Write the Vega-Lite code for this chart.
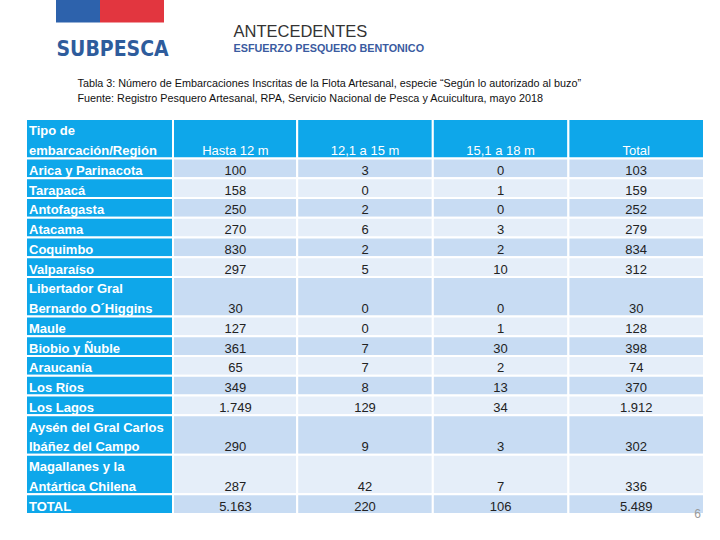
{
  "$schema": "https://vega.github.io/schema/vega-lite/v6.json",
  "width": 678,
  "height": 395,
  "autosize": {"type": "none"},
  "padding": {"left": 26, "top": 119, "right": 16, "bottom": 26},
  "background": "white",
  "config": {
    "view": {"stroke": null},
    "font": "Liberation Sans",
    "locale": {"number": {"decimal": ",", "thousands": ".", "grouping": [3], "currency": ["$", ""]}},
    "axis": {"grid": false, "labels": false, "ticks": false, "domain": false, "titleAngle": 0, "titleAlign": "left", "titleBaseline": "alphabetic"}
  },
  "datasets": {
    "tabla": [
      {"linea1": "Tipo de", "linea2": "embarcación/Región"},
      {"linea1": "Arica y Parinacota", "linea2": "Arica y Parinacota", "Hasta 12 m": 100, "12,1 a 15 m": 3, "15,1 a 18 m": 0, "Total": 103},
      {"linea1": "Tarapacá", "linea2": "Tarapacá", "Hasta 12 m": 158, "12,1 a 15 m": 0, "15,1 a 18 m": 1, "Total": 159},
      {"linea1": "Antofagasta", "linea2": "Antofagasta", "Hasta 12 m": 250, "12,1 a 15 m": 2, "15,1 a 18 m": 0, "Total": 252},
      {"linea1": "Atacama", "linea2": "Atacama", "Hasta 12 m": 270, "12,1 a 15 m": 6, "15,1 a 18 m": 3, "Total": 279},
      {"linea1": "Coquimbo", "linea2": "Coquimbo", "Hasta 12 m": 830, "12,1 a 15 m": 2, "15,1 a 18 m": 2, "Total": 834},
      {"linea1": "Valparaíso", "linea2": "Valparaíso", "Hasta 12 m": 297, "12,1 a 15 m": 5, "15,1 a 18 m": 10, "Total": 312},
      {"linea1": "Libertador Gral", "linea2": "Bernardo O´Higgins", "Hasta 12 m": 30, "12,1 a 15 m": 0, "15,1 a 18 m": 0, "Total": 30},
      {"linea1": "Maule", "linea2": "Maule", "Hasta 12 m": 127, "12,1 a 15 m": 0, "15,1 a 18 m": 1, "Total": 128},
      {"linea1": "Biobio y Ñuble", "linea2": "Biobio y Ñuble", "Hasta 12 m": 361, "12,1 a 15 m": 7, "15,1 a 18 m": 30, "Total": 398},
      {"linea1": "Araucanía", "linea2": "Araucanía", "Hasta 12 m": 65, "12,1 a 15 m": 7, "15,1 a 18 m": 2, "Total": 74},
      {"linea1": "Los Ríos", "linea2": "Los Ríos", "Hasta 12 m": 349, "12,1 a 15 m": 8, "15,1 a 18 m": 13, "Total": 370},
      {"linea1": "Los Lagos", "linea2": "Los Lagos", "Hasta 12 m": 1749, "12,1 a 15 m": 129, "15,1 a 18 m": 34, "Total": 1912},
      {"linea1": "Aysén del Gral Carlos", "linea2": "Ibáñez del Campo", "Hasta 12 m": 290, "12,1 a 15 m": 9, "15,1 a 18 m": 3, "Total": 302},
      {"linea1": "Magallanes y la", "linea2": "Antártica Chilena", "Hasta 12 m": 287, "12,1 a 15 m": 42, "15,1 a 18 m": 7, "Total": 336},
      {"linea1": "TOTAL", "linea2": "TOTAL", "Hasta 12 m": 5163, "12,1 a 15 m": 220, "15,1 a 18 m": 106, "Total": 5489}
    ],
    "logo": [{"marca": "SUBPESCA"}]
  },
  "layer": [
    {
      "layer": [
        {
          "data": {"name": "tabla"},
          "transform": [
            {"window": [{"op": "row_number", "as": "n"}]},
            {"fold": ["Hasta 12 m", "12,1 a 15 m", "15,1 a 18 m", "Total"], "as": ["col", "valor"]}
          ],
          "mark": {"type": "rect", "stroke": "white", "strokeWidth": 2},
          "encoding": {
            "x": {
              "field": "col", "type": "nominal",
              "scale": {"domain": ["Región", "Hasta 12 m", "12,1 a 15 m", "15,1 a 18 m", "Total"], "paddingInner": 0, "paddingOuter": 0},
              "axis": {
                "orient": "top",
                "title": ["Tabla 3: Número de Embarcaciones Inscritas de la Flota Artesanal, especie “Según lo autorizado al buzo”", "Fuente: Registro Pesquero Artesanal, RPA, Servicio Nacional de Pesca y Acuicultura, mayo 2018"],
                "titleX": 51, "titleY": -33, "titleAngle": 0, "titleAlign": "left", "titleBaseline": "alphabetic",
                "titleFont": "Liberation Sans", "titleFontSize": 10.8, "titleFontWeight": "normal", "titleColor": "#111111", "titleLineHeight": 15
              }
            },
            "y": {
              "field": "linea1", "type": "nominal", "bandPosition": 0,
              "scale": {"domain": ["Tipo de", "embarcación/Región", "Arica y Parinacota", "Tarapacá", "Antofagasta", "Atacama", "Coquimbo", "Valparaíso", "Libertador Gral", "Bernardo O´Higgins", "Maule", "Biobio y Ñuble", "Araucanía", "Los Ríos", "Los Lagos", "Aysén del Gral Carlos", "Ibáñez del Campo", "Magallanes y la", "Antártica Chilena", "TOTAL"], "paddingInner": 0, "paddingOuter": 0},
              "axis": {
                "orient": "left", "title": "ANTECEDENTES",
                "titleX": 207, "titleY": -83, "titleAngle": 0, "titleAlign": "left", "titleBaseline": "alphabetic",
                "titleFont": "Liberation Sans", "titleFontSize": 16.5, "titleFontWeight": "normal", "titleColor": "#333333"
              }
            },
            "y2": {"field": "linea2", "bandPosition": 1},
            "fill": {
              "condition": [
                {"test": "datum.n == 1", "value": "#0EA7EA"},
                {"test": "datum.n % 2 == 0", "value": "#C8DCF3"}
              ],
              "value": "#E5EEF9"
            }
          }
        },
        {
          "data": {"name": "tabla"},
          "mark": {"type": "rect", "fill": "#0EA7EA", "stroke": "white", "strokeWidth": 2, "width": {"band": 1.084}, "xOffset": 5.7},
          "encoding": {
            "x": {
              "datum": "Región", "type": "nominal",
              "axis": {
                "orient": "bottom", "title": "ESFUERZO PESQUERO BENTONICO",
                "titleX": 207, "titleY": -463, "titleAngle": 0, "titleAlign": "left", "titleBaseline": "alphabetic",
                "titleFont": "Liberation Sans", "titleFontSize": 10.8, "titleFontWeight": "bold", "titleColor": "#3A5BA0"
              }
            },
            "y": {"field": "linea1", "type": "nominal", "bandPosition": 0, "axis": null},
            "y2": {"field": "linea2", "bandPosition": 1}
          }
        },
        {
          "data": {"name": "tabla"},
          "transform": [
            {"fold": ["linea1", "linea2"], "as": ["parte", "linea"]},
            {"filter": "datum.parte == 'linea1' || datum.linea1 != datum.linea2"}
          ],
          "mark": {"type": "text", "align": "left", "baseline": "alphabetic", "dx": 3, "dy": -3.3, "font": "Liberation Sans", "fontSize": 13, "fontWeight": "bold", "color": "white"},
          "encoding": {
            "x": {"datum": "Región", "type": "nominal", "bandPosition": 0, "axis": null},
            "y": {"field": "linea", "type": "nominal", "bandPosition": 1, "axis": null},
            "text": {"field": "linea"}
          }
        },
        {
          "data": {"name": "tabla"},
          "transform": [
            {"window": [{"op": "row_number", "as": "n"}]},
            {"filter": "datum.n == 1"},
            {"fold": ["Hasta 12 m", "12,1 a 15 m", "15,1 a 18 m", "Total"], "as": ["col", "valor"]}
          ],
          "mark": {"type": "text", "align": "center", "baseline": "alphabetic", "dy": -3.3, "dx": {"expr": "datum.col === 'Hasta 12 m' ? 6 : 0"}, "font": "Liberation Sans", "fontSize": 13, "color": "white"},
          "encoding": {
            "x": {"field": "col", "type": "nominal", "axis": null},
            "y": {"field": "linea2", "type": "nominal", "bandPosition": 1, "axis": null},
            "text": {"field": "col"}
          }
        },
        {
          "data": {"name": "tabla"},
          "transform": [
            {"window": [{"op": "row_number", "as": "n"}]},
            {"filter": "datum.n > 1"},
            {"fold": ["Hasta 12 m", "12,1 a 15 m", "15,1 a 18 m", "Total"], "as": ["col", "valor"]}
          ],
          "mark": {"type": "text", "align": "center", "baseline": "alphabetic", "dy": -3.3, "dx": {"expr": "datum.col === 'Hasta 12 m' ? 6 : 0"}, "font": "Liberation Sans", "fontSize": 13, "color": "#222222"},
          "encoding": {
            "x": {"field": "col", "type": "nominal", "axis": null},
            "y": {"field": "linea2", "type": "nominal", "bandPosition": 1, "axis": null},
            "text": {"field": "valor", "type": "quantitative", "format": ",d"}
          }
        }
      ],
      "resolve": {"axis": {"x": "independent", "y": "independent"}}
    },
    {
      "data": {"name": "logo"},
      "mark": {
        "type": "rect",
        "fill": {"gradient": "linear", "x1": 0, "y1": 0, "x2": 1, "y2": 0, "stops": [
          {"offset": 0, "color": "#2D62AC"}, {"offset": 0.407, "color": "#2D62AC"},
          {"offset": 0.407, "color": "#E2363F"}, {"offset": 1, "color": "#E2363F"}
        ]}
      },
      "encoding": {
        "x": {
          "field": "marca", "type": "nominal",
          "scale": {"range": [30, 138], "paddingInner": 0, "paddingOuter": 0},
          "axis": {
            "orient": "top", "title": "SUBPESCA",
            "titleX": 30, "titleY": -64, "titleAngle": 0, "titleAlign": "left", "titleBaseline": "alphabetic",
            "titleFont": "DejaVu Sans Condensed, Liberation Sans Narrow, sans-serif", "titleFontSize": 21, "titleFontWeight": "bold", "titleColor": "#2E5C9C"
          }
        },
        "y": {
          "field": "marca", "type": "nominal",
          "scale": {"range": [-119, -96.5], "paddingInner": 0, "paddingOuter": 0},
          "axis": {
            "orient": "right", "title": "6",
            "titleX": -7, "titleY": 398, "titleAngle": 0, "titleAlign": "center", "titleBaseline": "alphabetic",
            "titleFont": "Liberation Sans", "titleFontSize": 12, "titleFontWeight": "normal", "titleColor": "#9a9a9a"
          }
        }
      }
    }
  ],
  "resolve": {"scale": {"x": "independent", "y": "independent"}}
}
